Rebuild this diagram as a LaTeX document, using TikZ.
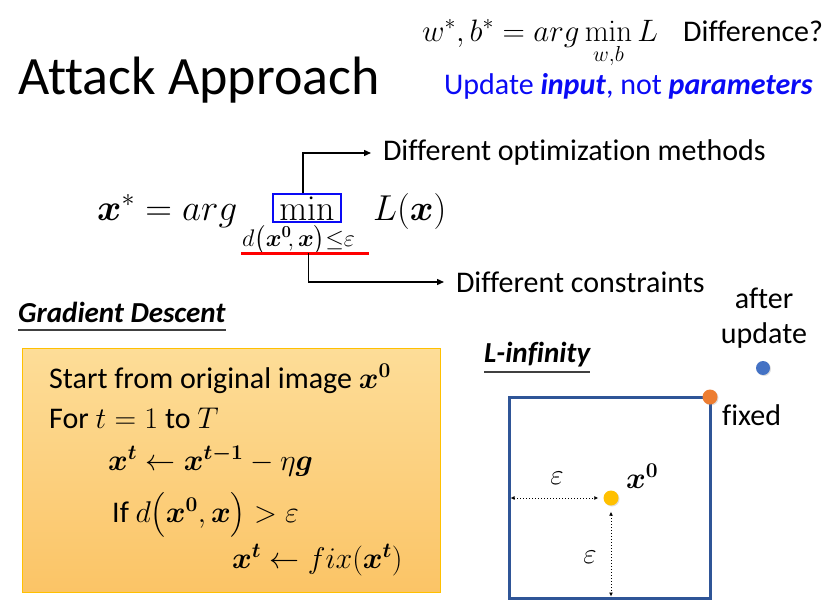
\documentclass[tikz,border=0pt]{standalone}
\usepackage{fix-cm}
\usepackage{amsmath}
\usepackage{bm}
\usepackage[no-math]{fontspec}
\setmainfont{Carlito}[Ligatures=NoCommon]
\usepackage{tikz}
\usetikzlibrary{positioning}
\usetikzlibrary{calc}
\usetikzlibrary{arrows.meta}
\usetikzlibrary{shadows}

\definecolor{boxtop}{HTML}{FDDD98}
\definecolor{boxbottom}{HTML}{FBC466}
\definecolor{boxedge}{HTML}{FFC000}
\definecolor{sqblue}{HTML}{2F5597}
\definecolor{dotorange}{HTML}{ED7D31}
\definecolor{dotblue}{HTML}{4472C4}
\definecolor{dotyellow}{HTML}{FFC000}
\definecolor{linkblue}{HTML}{0A0AF5}
\definecolor{rulegray}{HTML}{404040}

\newcommand{\fsz}[1]{\fontsize{#1}{#1}\selectfont}

\begin{document}
\begin{tikzpicture}[x=1pt, y=-1pt,
    txt/.style={inner sep=0pt, anchor=base west},
    heading/.style={txt, font=\fsz{29}\bfseries\itshape},
    note/.style={inner sep=0pt, outer xsep=12pt, anchor=west, font=\fsz{30}},
    pointer/.style={-{Triangle[length=7pt,width=6pt]}, line width=1.3pt},
    gap/.style={dotted, line width=1pt, {Latex[length=4pt,width=4pt]}-{Latex[length=4pt,width=4pt]}},
    spot/.style={circle, inner sep=0pt, minimum size=15pt,
        drop shadow={opacity=0.25, shadow xshift=1pt, shadow yshift=-1pt}}
]
    \useasboundingbox (0,0) rectangle (834,604);

    % title and the question at the top
    \node[txt, font=\fsz{54}] (title) at (18,95) {Attack Approach};
    \node[txt, font=\fsz{31}] (objwb) at (422,42) {$\displaystyle w^*,b^*=arg\min_{w,b}L$};
    \node[txt, font=\fsz{30}] (diff) at (683,42) {Difference?};
    \node[txt, font=\fsz{30}, text=linkblue] (upd) at (444,95)
        {Update \textbf{\textit{input}}, not \textbf{\textit{parameters}}};

    % the attack objective
    \node[txt, font=\fsz{37}] (xstar) at (97,220) {$\bm{x}^*=arg$};
    \node[draw=linkblue, line width=2pt, inner xsep=6pt, inner ysep=2pt,
        font=\fsz{36}, anchor=base] (minbox) at (307,220) {$\min$};
    \node[txt, font=\fsz{36}] (lossx) at (373,220) {$L(\bm{x})$};
    \node[txt, font=\fsz{24}] (constr) at (242,246)
        {$d\bigl(\bm{x}^{\bm{0}}\!,\bm{x}\bigr){\le}\varepsilon$};
    \coordinate (redl) at (241,253);
    \coordinate (redr) at (369,253);
    \draw[red, line width=3pt] (redl) -- (redr);

    \node[note] (optm) at (371,153) {Different optimization methods};
    \node[note] (cons) at (444,282) {Different constraints};
    \draw[pointer] ([xshift=-4pt]minbox.north) |- (optm.west);
    \draw[pointer] ($(redl)!0.53!(redr)$) |- (cons.west);

    % gradient descent box
    \node[heading] (gdhead) at (18,322) {Gradient Descent};
    \draw[rulegray, line width=1.2pt] ([yshift=-8pt]gdhead.base west) -- ([yshift=-8pt]gdhead.base east);
    \node[draw=boxedge, line width=1pt, top color=boxtop, bottom color=boxbottom,
        minimum width=418pt, minimum height=244pt, inner sep=0pt, anchor=north west] (algbox) at (22,348) {};
    \node[txt, font=\fsz{30}] (step1) at (49,388) {Start from original image $\bm{x}^{\bm{0}}$};
    \node[txt, font=\fsz{30}] (step2) at (49,428) {For $t=1$ to $T$};
    \node[txt, font=\fsz{30}] (step3) at (108,470) {$\bm{x}^{\bm{t}}\leftarrow\bm{x}^{\bm{t-1}}-\eta\bm{g}$};
    \node[txt, font=\fsz{30}] (step4) at (112,522) {If $d\bigl(\bm{x}^{\bm{0}},\bm{x}\bigr)>\varepsilon$};
    \node[txt, font=\fsz{30}] (step5) at (232,568) {$\bm{x}^{\bm{t}}\leftarrow fix(\bm{x}^{\bm{t}})$};

    % L-infinity ball
    \node[heading] (linf) at (484,362) {L-infinity};
    \draw[rulegray, line width=1.2pt] ([yshift=-10pt]linf.base west) -- ([yshift=-10pt]linf.base east);
    \node[draw=sqblue, line width=3pt, minimum size=201pt, inner sep=0pt, outer sep=0pt] (ball) at (609.5,497.5) {};
    \node[spot, fill=dotyellow] (orig) at (611,498) {};
    \node[spot, fill=dotorange] (fixd) at (ball.north east) {};
    \node[spot, fill=dotblue, minimum size=14pt] (moved) at (763,368) {};
    \node[txt, font=\fsz{30}] (fixlbl) at (722,425) {fixed};
    \node[inner sep=0pt, anchor=base, font=\fsz{30}] (afterlbl) at (764,308) {after};
    \node[inner sep=0pt, anchor=base, font=\fsz{30}] (updlbl) at (764,343) {update};
    \node[txt, font=\fsz{30}] (origlbl) at (626,488) {$\bm{x}^{\bm{0}}$};

    \draw[gap] ([xshift=1.5pt]ball.west |- orig.west) -- ([xshift=-5pt]orig.west);
    \draw[gap] ([yshift=-6pt]orig.south) -- ([yshift=1.5pt]orig.south |- ball.south);
    \node[font=\fsz{29}] (epsh) at (557,478) {$\varepsilon$};
    \node[font=\fsz{29}] (epsv) at (590,557) {$\varepsilon$};
\end{tikzpicture}
\end{document}
